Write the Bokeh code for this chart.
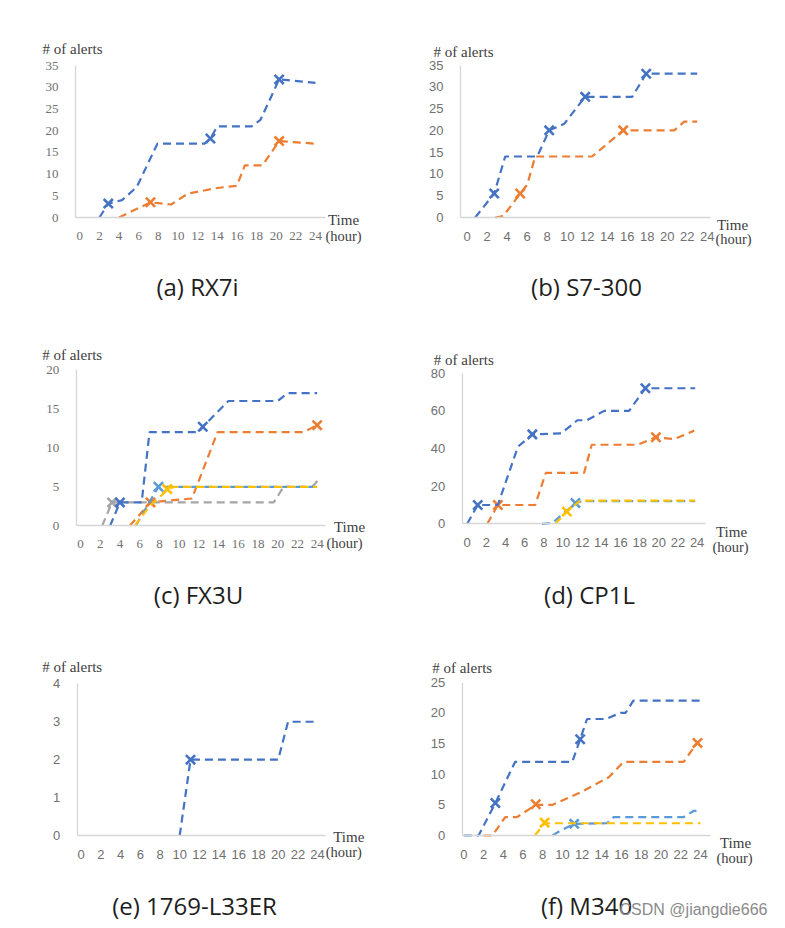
from bokeh.plotting import figure
from bokeh.models import Range1d, FixedTicker
from bokeh.core.properties import value
from bokeh.layouts import column, row
from bokeh.embed import file_html
from bokeh.resources import INLINE

# ---------------- data ----------------
HOUR_TICKS = [0, 2, 4, 6, 8, 10, 12, 14, 16, 18, 20, 22, 24]

# (a) RX7i
a_blue_x = [2, 2.9, 4.3, 5.8, 7.9, 12.7, 13.3, 14, 17.5, 18.4, 20.3, 24]
a_blue_y = [0, 3.2, 4, 7, 17, 17, 18.2, 21, 21, 22.5, 31.8, 31]
a_blue_mx = [2.9, 13.3, 20.3]
a_blue_my = [3.2, 18.2, 31.8]
a_orange_x = [4, 7.2, 9.3, 11, 14, 16, 16.8, 18.6, 20.3, 24]
a_orange_y = [0, 3.5, 3, 5.5, 6.8, 7.3, 12, 12, 17.6, 17]
a_orange_mx = [7.2, 20.3]
a_orange_my = [3.5, 17.6]

# (b) S7-300
b_blue_x = [0.8, 2.7, 3.8, 7, 8.2, 9.7, 11.8, 16.5, 17.9, 23]
b_blue_y = [0, 5.5, 14, 14, 20, 21.5, 27.7, 27.7, 33, 33]
b_blue_mx = [2.7, 8.2, 11.8, 17.9]
b_blue_my = [5.5, 20, 27.7, 33]
b_orange_x = [2.8, 3.6, 5.3, 6, 6.8, 12.5, 15.6, 20.7, 21.7, 23]
b_orange_y = [0, 0.3, 5.5, 7.5, 14, 14, 20, 20, 22, 22]
b_orange_mx = [5.3, 15.6]
b_orange_my = [5.5, 20]

# (c) FX3U
c_blue_x = [3, 4, 6.2, 7, 12, 12.4, 15, 20, 21, 24]
c_blue_y = [0, 3, 3, 12, 12, 12.7, 16, 16, 17, 17]
c_blue_mx = [4, 12.4]
c_blue_my = [3, 12.7]
c_orange_x = [5, 7.1, 11.3, 13.9, 22.6, 24]
c_orange_y = [0, 3, 3.5, 12, 12, 12.9]
c_orange_mx = [7.1, 24]
c_orange_my = [3, 12.9]
c_gray_x = [2.2, 3.2, 19.6, 20.6, 23.5, 24.2]
c_gray_y = [0, 3, 3, 5, 5, 6]
c_gray_mx = [3.2]
c_gray_my = [3]
c_yellow_x = [5.5, 7, 8.8, 9.5, 24]
c_yellow_y = [0, 2.5, 4.6, 5, 5]
c_yellow_mx = [8.8]
c_yellow_my = [4.7]
c_lblue_x = [5.6, 7.9, 24]
c_lblue_y = [0, 5, 5]
c_lblue_mx = [7.9]
c_lblue_my = [5]

# (d) CP1L
d_blue_x = [0, 1.1, 3.2, 5.3, 6.8, 9.8, 11.5, 12.5, 14.3, 16.9, 18.6, 23.8]
d_blue_y = [0, 10, 10, 41, 47.5, 48, 55, 55, 60, 60, 72, 72]
d_blue_mx = [1.1, 6.8, 18.6]
d_blue_my = [10, 47.5, 72]
d_orange_x = [2.1, 3.2, 7.1, 8.2, 12.2, 13, 17.8, 19.7, 21.6, 23.7]
d_orange_y = [0, 10, 10, 27, 27, 42, 42, 46, 45, 49.5]
d_orange_mx = [3.2, 19.7]
d_orange_my = [10, 46]
d_lblue_x = [7.8, 8.9, 11.3, 12, 23.8]
d_lblue_y = [0, 0.5, 11, 12, 12]
d_lblue_mx = [11.3]
d_lblue_my = [11]
d_yellow_x = [9.2, 10.4, 11.8, 23.8]
d_yellow_y = [0, 6.5, 12.3, 12.3]
d_yellow_mx = [10.4]
d_yellow_my = [6.5]

# (e) 1769-L33ER
e_blue_x = [10, 11.1, 20, 21, 24]
e_blue_y = [0, 2, 2, 3, 3]
e_blue_mx = [11.1]
e_blue_my = [2]

# (f) M340
f_blue_x = [0, 1.5, 3.2, 5.2, 11, 11.8, 12.5, 14.4, 15.9, 16.4, 17.2, 24]
f_blue_y = [0, 0, 5.3, 12, 12, 15.7, 19, 19, 20, 20, 22, 22]
f_blue_mx = [3.2, 11.8]
f_blue_my = [5.3, 15.7]
f_orange_x = [2, 2.9, 4.2, 5.4, 7.3, 9, 11.8, 14.7, 16.2, 22.3, 23.7]
f_orange_y = [0, 0, 3, 3, 5, 5, 7, 9.5, 12, 12, 15.2]
f_orange_mx = [7.3, 23.7]
f_orange_my = [5.1, 15.1]
f_yellow_x = [7.2, 8.2, 24]
f_yellow_y = [0, 2, 2]
f_yellow_mx = [8.2]
f_yellow_my = [2.1]
f_lblue_x = [9, 9.8, 11.2, 14.5, 15.2, 22.3, 23.3, 24]
f_lblue_y = [0, 0.8, 1.9, 2, 3, 3, 4, 4]
f_lblue_mx = [11.2]
f_lblue_my = [1.9]

CAPTIONS = ["(a) RX7i", "(b) S7-300", "(c) FX3U", "(d) CP1L", "(e) 1769-L33ER", "(f) M340"]
Y_MAX = [35, 35, 20, 80, 4, 25]
Y_STEP = [5, 5, 5, 20, 1, 5]
WATERMARK = "CSDN @jiangdie666"

# ---------------- style ----------------
BLUE = "#4472C4"
ORANGE = "#ED7D31"
GRAY = "#A5A5A5"
YELLOW = "#FFC000"
LBLUE = "#5B9BD5"

SERIES = [
    [(a_orange_x, a_orange_y, a_orange_mx, a_orange_my, ORANGE),
     (a_blue_x, a_blue_y, a_blue_mx, a_blue_my, BLUE)],
    [(b_orange_x, b_orange_y, b_orange_mx, b_orange_my, ORANGE),
     (b_blue_x, b_blue_y, b_blue_mx, b_blue_my, BLUE)],
    [(c_orange_x, c_orange_y, c_orange_mx, c_orange_my, ORANGE),
     (c_gray_x, c_gray_y, c_gray_mx, c_gray_my, GRAY),
     (c_blue_x, c_blue_y, c_blue_mx, c_blue_my, BLUE),
     (c_lblue_x, c_lblue_y, c_lblue_mx, c_lblue_my, LBLUE),
     (c_yellow_x, c_yellow_y, c_yellow_mx, c_yellow_my, YELLOW)],
    [(d_orange_x, d_orange_y, d_orange_mx, d_orange_my, ORANGE),
     (d_blue_x, d_blue_y, d_blue_mx, d_blue_my, BLUE),
     (d_lblue_x, d_lblue_y, d_lblue_mx, d_lblue_my, LBLUE),
     (d_yellow_x, d_yellow_y, d_yellow_mx, d_yellow_my, YELLOW)],
    [(e_blue_x, e_blue_y, e_blue_mx, e_blue_my, BLUE)],
    [(f_orange_x, f_orange_y, f_orange_mx, f_orange_my, ORANGE),
     (f_blue_x, f_blue_y, f_blue_mx, f_blue_my, BLUE),
     (f_lblue_x, f_lblue_y, f_lblue_mx, f_lblue_my, LBLUE),
     (f_yellow_x, f_yellow_y, f_yellow_mx, f_yellow_my, YELLOW)],
]

# ---------------- layout geometry (page pixels) ----------------
COL_X = [0, 392]
COL_W = [392, 393]
ROW_Y = [0, 309, 618]
ROW_H = [309, 309, 310]
CHART_H = [270, 270, 272]
MB_LEFT = 30
MB_BOTTOM = 24

# per panel: axis box L,R,T,B; x of hour 0; px per hour; sans labels; text anchors
GEOM = [
    dict(frame=(75, 325, 65, 217), x0=79.3, pxh=9.82, sans=False,
         ylab=(42, 48), time=(343, 219), hour=(343, 235), cap=(197, 286)),
    dict(frame=(460, 710, 64.5, 217), x0=466.7, pxh=10.0, sans=True,
         ylab=(433, 51), time=(732, 224), hour=(733, 238.5), cap=(586, 286)),
    dict(frame=(75.7, 325, 369.3, 525.3), x0=80, pxh=9.86, sans=False,
         ylab=(41.7, 354), time=(349, 526.7), hour=(344, 542), cap=(198, 594)),
    dict(frame=(461.7, 705, 372.7, 523.3), x0=466.7, pxh=9.58, sans=True,
         ylab=(433.3, 359.3), time=(731, 531.7), hour=(730, 546.5), cap=(589, 594)),
    dict(frame=(76.7, 325, 683.3, 835), x0=80.7, pxh=9.85, sans=True,
         ylab=(41.7, 666), time=(348.3, 836.7), hour=(343.3, 851.7), cap=(194, 905)),
    dict(frame=(461.7, 710, 681.7, 835), x0=463.3, pxh=9.86, sans=True,
         ylab=(431.7, 667.3), time=(735, 842.7), hour=(734, 857.5), cap=(586, 905)),
]

SERIF = "Liberation Serif"
SANS = "Liberation Sans"
CAP_FONT = "Open Sans"
TEXT_DARK = "#404040"


def make_chart(i):
    g = GEOM[i]
    ri, ci = divmod(i, 2)
    ox, oy, W = COL_X[ci], ROW_Y[ri], COL_W[ci]
    H = CHART_H[ri]
    L, R, T, B = g["frame"]
    x0, pxh = g["x0"], g["pxh"]
    ppu = (B - T) / Y_MAX[i]

    def dx(px):
        return (px - x0) / pxh

    def dy(py):
        return (B - py) / ppu

    p = figure(width=W, height=H,
               min_border_left=MB_LEFT, min_border_right=0,
               min_border_top=0, min_border_bottom=MB_BOTTOM,
               x_range=Range1d(dx(ox + MB_LEFT), dx(ox + W)),
               y_range=Range1d(dy(oy + H - MB_BOTTOM), dy(oy)),
               output_backend="svg", toolbar_location=None)
    p.outline_line_color = None
    p.xgrid.visible = False
    p.ygrid.visible = False
    font = SANS if g["sans"] else SERIF
    for ax in (p.xaxis[0], p.yaxis[0]):
        ax.axis_line_color = "#d6d6d6"
        ax.axis_line_width = 1.3
        ax.major_tick_line_color = None
        ax.minor_tick_line_color = None
        ax.major_label_text_color = "#707070"
        ax.major_label_text_font = font
        ax.major_label_text_font_size = "13px"
    xa, ya = p.xaxis[0], p.yaxis[0]
    xa.ticker = FixedTicker(ticks=HOUR_TICKS)
    ya.ticker = FixedTicker(ticks=list(range(0, Y_MAX[i] + 1, Y_STEP[i])))
    xa.major_label_standoff = 8
    ya.major_label_standoff = 11
    xa.fixed_location = 0
    xa.bounds = (dx(L), dx(R))
    ya.fixed_location = dx(L)
    ya.bounds = (0, Y_MAX[i])

    for xs, ys, mx, my, col in SERIES[i]:
        p.line(xs, ys, line_color=col, line_width=2.2, line_dash="8 5")
        p.scatter(mx, my, marker="x", size=13, line_color=col, line_width=2.6)

    def txt(pt, text, size, align="center"):
        p.text(x=[dx(pt[0])], y=[dy(pt[1])], text=[text], text_font=value(SERIF),
               text_font_size=size, text_color=TEXT_DARK, text_align=align,
               text_baseline="middle")

    txt(g["ylab"], "# of alerts", "15px", align="left")
    txt(g["time"], "Time", "15px")
    txt(g["hour"], "(hour)", "14.5px")
    return p


def make_caption(i):
    g = GEOM[i]
    ri, ci = divmod(i, 2)
    ox, W = COL_X[ci], COL_W[ci]
    top = ROW_Y[ri] + CHART_H[ri]
    hc = ROW_H[ri] - CHART_H[ri]
    p = figure(width=W, height=hc, min_border_left=MB_LEFT, min_border_right=0,
               min_border_top=0, min_border_bottom=0,
               x_range=Range1d(ox + MB_LEFT, ox + W), y_range=Range1d(top + hc, top),
               x_axis_location=None, y_axis_location=None,
               output_backend="svg", toolbar_location=None)
    p.outline_line_color = None
    p.xgrid.visible = False
    p.ygrid.visible = False
    cx, cy = g["cap"]
    p.text(x=[cx], y=[cy], text=[CAPTIONS[i]], text_font=value(CAP_FONT),
           text_font_size="24px", text_color="#1e1e1e", text_align="center",
           text_baseline="middle")
    if i == 5:
        p.text(x=[693], y=[909], text=[WATERMARK], text_font=value(SANS),
               text_font_size="16px", text_color="#8a8a8a", text_align="center",
               text_baseline="middle")
    return p


cells = [column(make_chart(i), make_caption(i)) for i in range(6)]
layout = column(row(cells[0], cells[1]), row(cells[2], cells[3]), row(cells[4], cells[5]))

open("out.html", "w").write(file_html(layout, INLINE))
